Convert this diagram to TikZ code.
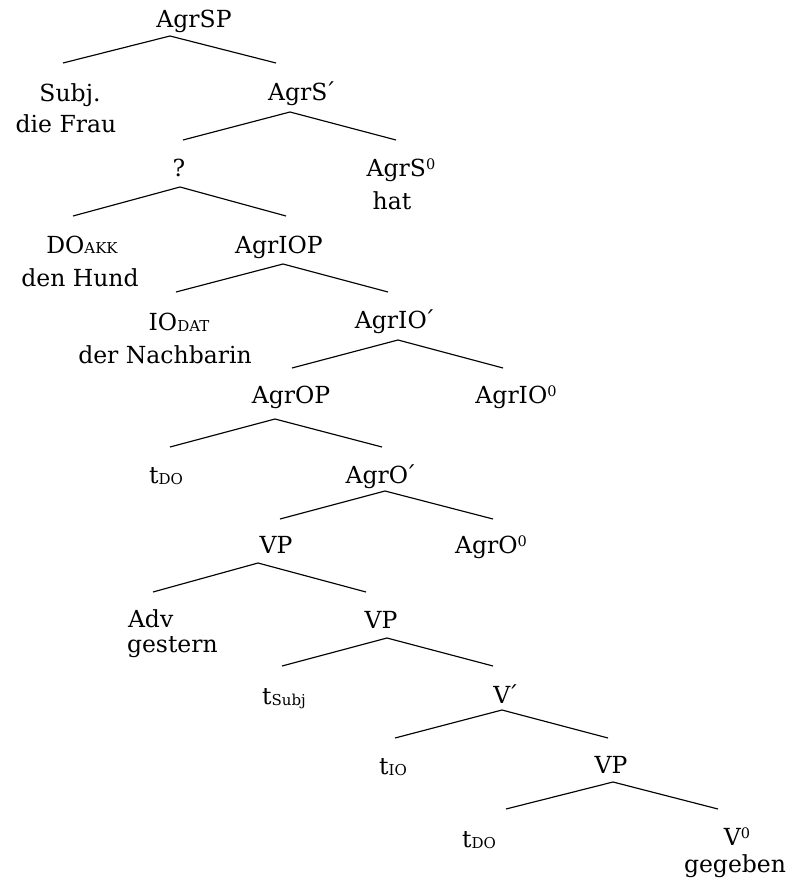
\documentclass[tikz,border=0pt]{standalone}
\usepackage{fontspec}
\setmainfont{DejaVu Serif}
\newcommand{\lowidx}[1]{\raisebox{-1pt}{\fontsize{15}{16}\selectfont #1}}
\newcommand{\highidx}[1]{\raisebox{7pt}{\fontsize{14.5}{15}\selectfont #1}}
\newcommand{\barmark}{\kern-3.5pt´}
\begin{document}
\begin{tikzpicture}[x=1pt,y=-1pt,
  lbl/.style={inner sep=0pt, outer sep=0pt, anchor=base, font=\fontsize{23.5}{27}\selectfont},
  lbll/.style={lbl, anchor=base west},
  branch/.style={line width=1.15pt, line join=miter}]
\useasboundingbox (0,0) rectangle (790,885);

% labels
\node[lbl] (agrsp)   at (194,28)  {AgrSP};
\node[lbl] (subj)    at (70,102)  {Subj.};
\node[lbl] (frau)    at (66,133)  {die Frau};
\node[lbl] (agrsbar) at (302,101) {AgrS\barmark};
\node[lbl] (q)       at (179,177) {?};
\node[lbl] (agrs0)   at (401,177) {AgrS\highidx{0}};
\node[lbl] (hat)     at (392,210) {hat};
\node[lbl] (do)      at (82,253)  {DO\lowidx{AKK}};
\node[lbl] (hund)    at (80,286)  {den Hund};
\node[lbl] (agriop)  at (279,253) {AgrIOP};
\node[lbl] (io)      at (179,330) {IO\lowidx{DAT}};
\node[lbl] (nachb)   at (165,363) {der Nachbarin};
\node[lbl] (agriobar) at (395,328) {AgrIO\barmark};
\node[lbl] (agrop)   at (291,403) {AgrOP};
\node[lbl] (agrio0)  at (516,403) {AgrIO\highidx{0}};
\node[lbl] (tdoa)    at (166,483) {t\lowidx{DO}};
\node[lbl] (agrobar) at (381,483) {AgrO\barmark};
\node[lbl] (vpa)     at (276,553) {VP};
\node[lbl] (agro0)   at (491,553) {AgrO\highidx{0}};
\node[lbll] (adv)    at (128,627) {Adv};
\node[lbll] (gestern) at (127,652) {gestern};
\node[lbl] (vpb)     at (381,628) {VP};
\node[lbl] (tsubj)   at (284,704) {t\lowidx{Subj}};
\node[lbl] (vbar)    at (506,703) {V\barmark};
\node[lbl] (tio)     at (393,774) {t\lowidx{IO}};
\node[lbl] (vpc)     at (611,773) {VP};
\node[lbl] (tdob)    at (479,847) {t\lowidx{DO}};
\node[lbl] (v0)      at (737,845) {V\highidx{0}};
\node[lbl] (gegeben) at (735,872) {gegeben};

% branching points and branch ends
\coordinate (a1) at (170,36);  \coordinate (l1) at (63,63);   \coordinate (r1) at (276,63);
\coordinate (a2) at (290,112); \coordinate (l2) at (183,140); \coordinate (r2) at (396,140);
\coordinate (a3) at (180,187); \coordinate (l3) at (73,216);  \coordinate (r3) at (286,216);
\coordinate (a4) at (283,264); \coordinate (l4) at (176,292); \coordinate (r4) at (388,292);
\coordinate (a5) at (398,340); \coordinate (l5) at (292,368); \coordinate (r5) at (503,368);
\coordinate (a6) at (275,419); \coordinate (l6) at (170,447); \coordinate (r6) at (382,447);
\coordinate (a7) at (385,491); \coordinate (l7) at (280,519); \coordinate (r7) at (493,519);
\coordinate (a8) at (258,563); \coordinate (l8) at (153,592); \coordinate (r8) at (366,592);
\coordinate (a9) at (387,638); \coordinate (l9) at (282,666); \coordinate (r9) at (493,666);
\coordinate (a10) at (502,710); \coordinate (l10) at (395,738); \coordinate (r10) at (608,738);
\coordinate (a11) at (613,782); \coordinate (l11) at (506,809); \coordinate (r11) at (718,809);

% branches
\foreach \i in {1,...,11}
  \draw[branch] (l\i) -- (a\i) -- (r\i);
\end{tikzpicture}
\end{document}
